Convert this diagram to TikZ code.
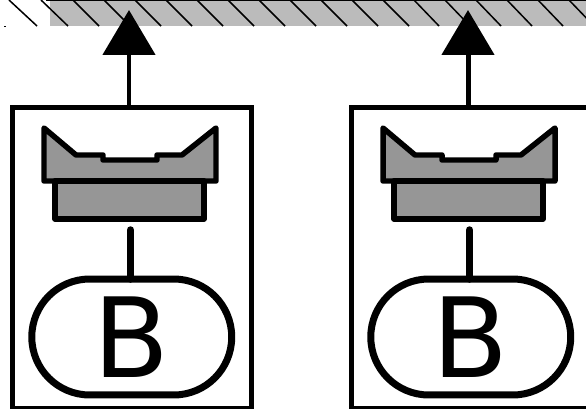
\documentclass[tikz,border=0pt]{standalone}
\usepackage{fontspec}
\setmainfont{DejaVu Sans}
\usetikzlibrary{arrows.meta}
\definecolor{wallgray}{HTML}{BBBBBB}
\definecolor{lensgray}{HTML}{969696}
\begin{document}
\begin{tikzpicture}[x=0.02cm,y=-0.02cm]
 \tikzstyle{housing} = [draw, line width=0.1cm, minimum width=4.78cm, minimum height=6.04cm, inner sep=0, outer sep=0];
 \tikzstyle{flow} = [line width=0.1cm, -{Triangle[width=1.04cm,length=0.9cm]}];
 \tikzstyle{stem} = [line width=0.15cm, line cap=round];
 \tikzstyle{lens} = [draw, fill=lensgray, line width=0.11cm, line join=round];
 \tikzstyle{oval} = [draw, fill=white, line width=0.14cm, rounded corners=1.16cm, minimum width=4cm, minimum height=2.32cm, inner sep=0, outer sep=0, font=\fontsize{63}{63}\selectfont];
 \tikzstyle{hatch} = [line width=0.03cm];
\useasboundingbox (0,0) rectangle (586,409);
\clip (0,0) rectangle (586,409);
% wall
\fill [wallgray] (50,0) rectangle (586,26);
\draw [hatch] (9,0) -- (37,26);
\draw [hatch] (41,0) -- (68,26);
\draw [hatch] (73,0) -- (99,26);
\draw [hatch] (104,0) -- (130,26);
\draw [hatch] (135,0) -- (161,26);
\draw [hatch] (166,0) -- (192,26);
\draw [hatch] (197,0) -- (223,26);
\draw [hatch] (228,0) -- (254,26);
\draw [hatch] (259,0) -- (285,26);
\draw [hatch] (290,0) -- (316,26);
\draw [hatch] (321,0) -- (347,26);
\draw [hatch] (352,0) -- (378,26);
\draw [hatch] (383,0) -- (409,26);
\draw [hatch] (414,0) -- (439,26);
\draw [hatch] (445,0) -- (470,26);
\draw [hatch] (476,0) -- (501,26);
\draw [hatch] (507,0) -- (532,26);
\draw [hatch] (538,0) -- (563,26);
\draw [hatch] (569,0) -- (594,26);
\draw [line width=0.04cm] (46,0.5) -- (586,0.5);
\fill (4.5,25.5) rectangle (6,27);
% left unit
\node [housing] (box1) at (131.75,258) {};
\coordinate (tip1) at (129,10);
\draw [flow] (tip1 |- box1.north) -- (tip1);
\node [oval] (oval1) at (131.75,337) {B};
\draw [lens] (44,128) -- (76,155) -- (103,155) -- (103,160) -- (157,160) -- (157,155) -- (182,155) -- (216,128) -- (216,181) -- (44,181) -- cycle;
\draw [lens] (55,181) rectangle (204,219);
\coordinate (stem1) at (130.5,230);
\draw [stem] (stem1) -- (stem1 |- oval1.north);
% right unit
\node [housing] (box2) at (470.5,258) {};
\coordinate (tip2) at (468,10);
\draw [flow] (tip2 |- box2.north) -- (tip2);
\node [oval] (oval2) at (470.75,337) {B};
\draw [lens] (383,128) -- (415,155) -- (442,155) -- (442,160) -- (496,160) -- (496,155) -- (521,155) -- (555,128) -- (555,181) -- (383,181) -- cycle;
\draw [lens] (394,181) rectangle (543,219);
\coordinate (stem2) at (469.5,230);
\draw [stem] (stem2) -- (stem2 |- oval2.north);
\end{tikzpicture}
\end{document}
